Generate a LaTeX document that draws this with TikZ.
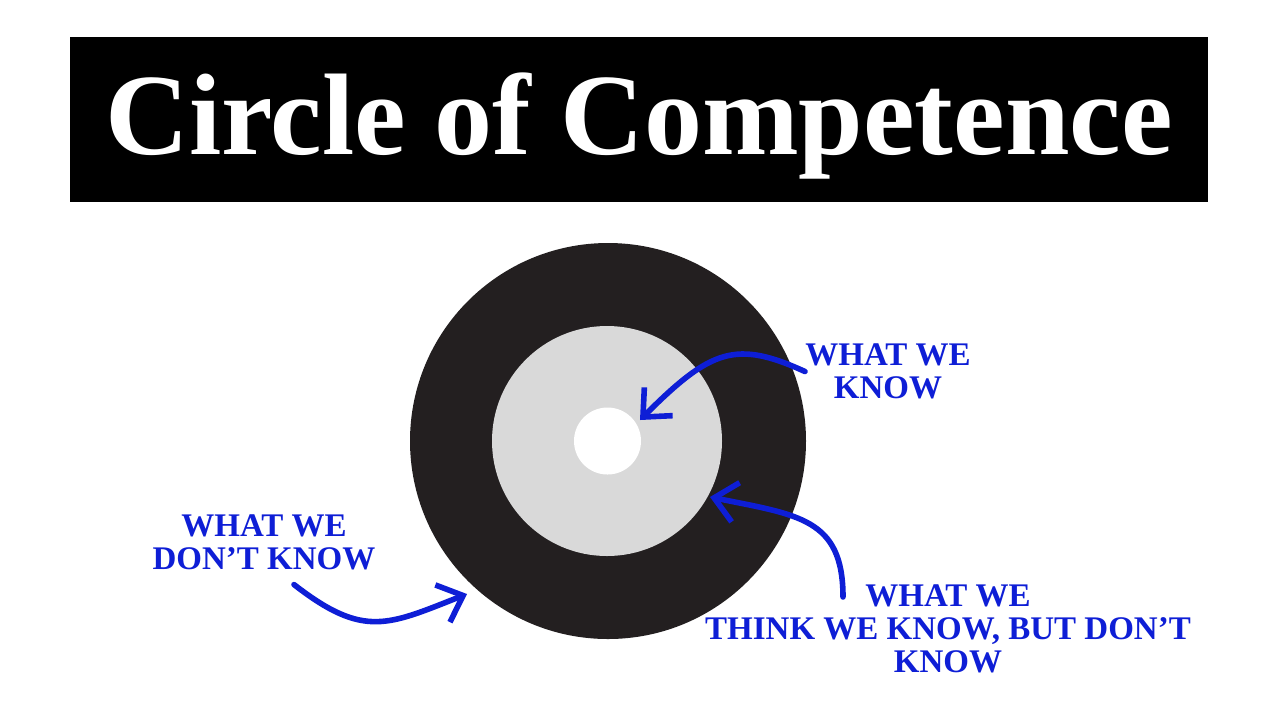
\documentclass[tikz,border=0pt]{standalone}
\usepackage{fontspec}
\setmainfont{Liberation Serif}
\usetikzlibrary{arrows.meta}

\definecolor{ringdark}{RGB}{35,31,32}
\definecolor{ringgray}{RGB}{217,217,217}
\definecolor{labelblue}{RGB}{14,30,214}

\begin{document}
\begin{tikzpicture}[x=0.5pt,y=-0.5pt,
  ring/.style={circle,inner sep=0pt,draw=none},
  lbl/.style={text=labelblue,font=\fontsize{16.5}{16.5}\selectfont\bfseries,align=center,inner sep=0pt},
  arr/.style={draw=labelblue,line width=2.8pt,line cap=round,
    -{Straight Barb[length=11pt,width=20pt,line width=2.8pt]}}]

\fill[white] (0,0) rectangle (1280,720);
\useasboundingbox (0,0) rectangle (1280,720);

% title bar
\fill[black] (70,37) rectangle (1208,202);
\node[anchor=base,text=white,inner sep=0pt,
  font=\fontsize{58}{60}\selectfont\bfseries] (title) at (639,154) {Circle of Competence};

% circles
\node[ring,fill=ringdark,minimum size=198pt] (outer) at (608,441) {};
\node[ring,fill=ringgray,minimum size=115pt] (middle) at (607,441) {};
\node[ring,fill=white,minimum size=33.5pt] (inner) at (607.5,441) {};

% labels
\node[lbl] (know) at (888,371.5) {WHAT WE\\KNOW};
\node[lbl] (dont) at (264,542.5) {WHAT WE\\DON'T KNOW};
\node[lbl] (think) at (948,628.5) {WHAT WE\\THINK WE KNOW, BUT DON'T\\KNOW};

% arrow ends
\coordinate (knowtip) at (640,420);
\coordinate (thinktip) at (710,497);
\coordinate (donttip) at (467,594);
\coordinate (thinkstart) at ([shift={(-52.5pt,-6.5pt)}]think.north);
\coordinate (dontstart) at ([shift={(15pt,-7pt)}]dont.south);

% arrows
\draw[arr] (know.west) .. controls (736,340) and (711,349) .. (knowtip);
\draw[arr] (thinkstart) .. controls (843,518) and (798,515) .. (thinktip);
\draw[arr] (dontstart) .. controls (364,639) and (388,625) .. (donttip);

\end{tikzpicture}
\end{document}
